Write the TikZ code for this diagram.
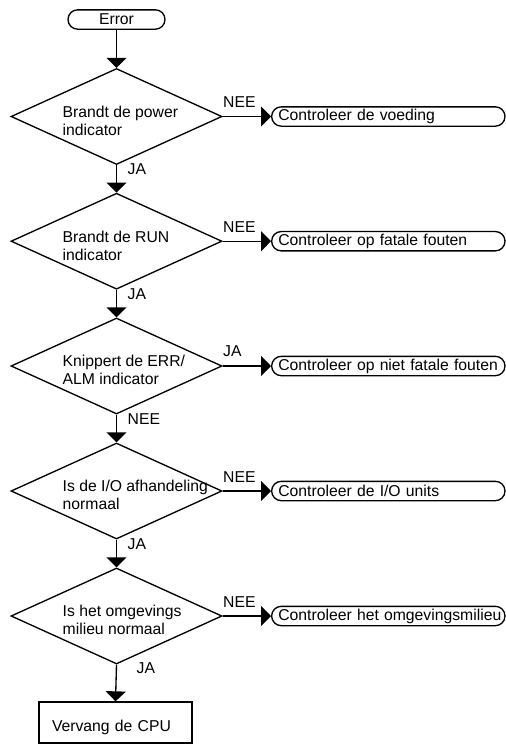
\documentclass[tikz,border=0pt]{standalone}
\usepackage{fontspec}
\setmainfont{Liberation Sans}
\usetikzlibrary{shapes.geometric,arrows.meta}
\hyphenpenalty=10000
\exhyphenpenalty=10000
\begin{document}
\begin{tikzpicture}[x=0.75pt,y=-0.75pt,
  every node/.style={font=\fontsize{11.8}{13.5}\selectfont},
  line width=1pt,
  term/.style={draw, rounded corners=7.2pt, minimum height=14.5pt, inner ysep=0pt},
  dec/.style={draw, diamond, minimum width=158.25pt, minimum height=72pt, inner sep=0pt},
  dtext/.style={anchor=west, align=left, inner sep=0pt},
  lbl/.style={anchor=base west, inner sep=0pt},
  flow/.style={-{Triangle[length=7.5pt,width=15pt]}},
  outbox/.style={term, anchor=west, text width=165pt, inner xsep=5pt, align=left},
  cpubox/.style={draw, minimum width=114.75pt, minimum height=30.75pt, text width=95.25pt,
    inner xsep=9.75pt, align=left, text height=12.75pt, text depth=0pt},
]
\useasboundingbox (0,0) rectangle (506,744);

\node[term, minimum width=72.75pt] (start) at (116.5,19.5) {Error};

\node[dec] (d1) at (116.5,116.5) {};
\node[dec] (d2) at (116.5,241.2) {};
\node[dec] (d3) at (116.5,366) {};
\node[dec] (d4) at (116.5,491) {};
\node[dec] (d5) at (116.5,616) {};

\node[dtext] (d1t) at (62,120.75) {Brandt de power\\indicator};
\node[dtext] (d2t) at (62,245.45) {Brandt de RUN\\indicator};
\node[dtext] (d3t) at (62,370.25) {Knippert de ERR/\\ALM indicator};
\node[dtext] (d4t) at (62,495.25) {Is de I/O afhandeling\\normaal};
\node[dtext] (d5t) at (62,620.25) {Is het omgevings\\milieu normaal};

\node[outbox] (o1) at (271,116.5) {\mbox{Controleer de voeding}};
\node[outbox] (o2) at (271,241.2) {\mbox{Controleer op fatale fouten}};
\node[outbox] (o3) at (271,366) {\mbox{Controleer op niet fatale fouten}};
\node[outbox] (o4) at (271,491) {\mbox{Controleer de I/O units}};
\node[outbox] (o5) at (271,616) {\mbox{Controleer het omgevingsmilieu}};

\node[cpubox] (cpu) at (115.5,722.5) {Vervang de CPU};

\node[lbl] (l1) at (222.5,107.5) {NEE};
\node[lbl] (l2) at (222.5,232.2) {NEE};
\node[lbl] (l3) at (222.5,356) {JA};
\node[lbl] (l4) at (222.5,482) {NEE};
\node[lbl] (l5) at (222.5,607) {NEE};

\node[lbl] (b1) at (127,174) {JA};
\node[lbl] (b2) at (127,299) {JA};
\node[lbl] (b3) at (127,424) {NEE};
\node[lbl] (b4) at (127,549) {JA};
\node[lbl] (b5) at (136,673) {JA};

\draw[flow] (start.south) -- (d1.north);
\draw[flow] (d1.south) -- (d2.north);
\draw[flow] (d2.south) -- (d3.north);
\draw[flow] (d3.south) -- (d4.north);
\draw[flow] (d4.south) -- (d5.north);
\draw[flow] (d5.south) -- (cpu.north);

\draw[flow] (d1.east) -- (o1.west);
\draw[flow] (d2.east) -- (o2.west);
\draw[flow] (d3.east) -- (o3.west);
\draw[flow] (d4.east) -- (o4.west);
\draw[flow] (d5.east) -- (o5.west);
\end{tikzpicture}
\end{document}
